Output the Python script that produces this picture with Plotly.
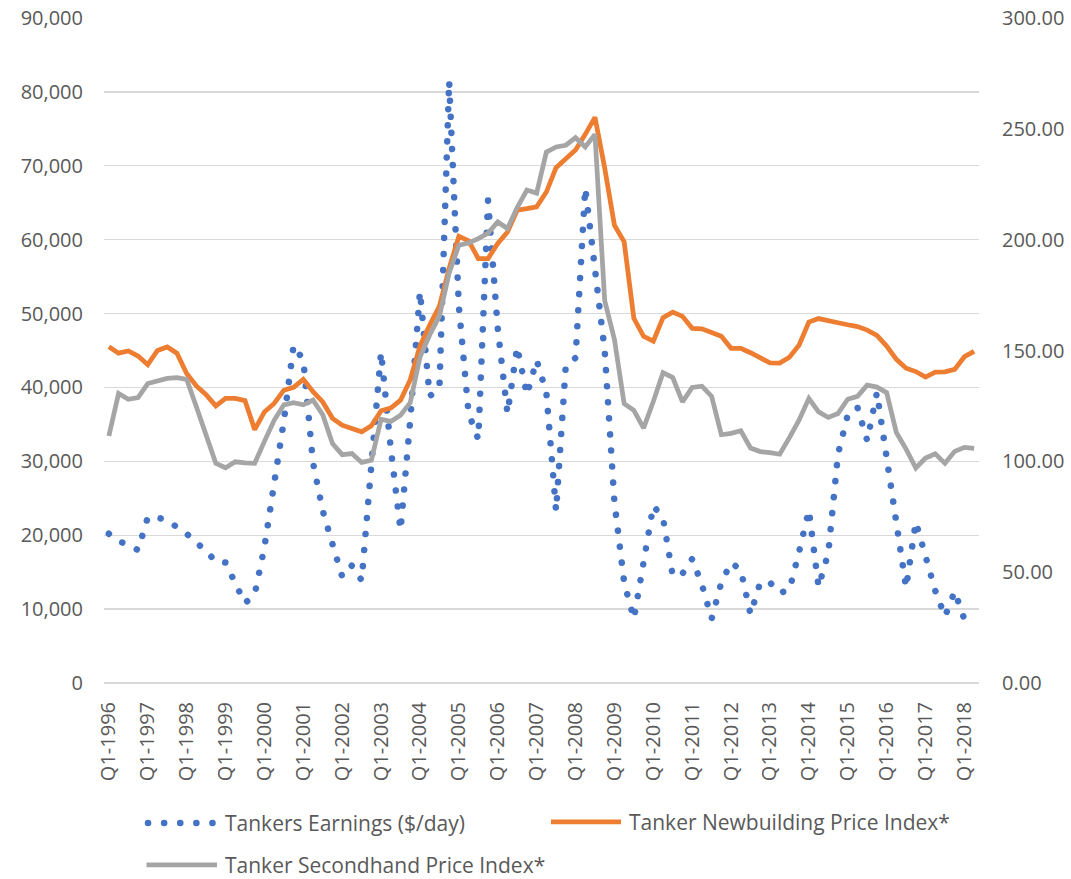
import plotly.graph_objects as go

# ---------------- data ----------------
years = list(range(1996, 2019))
quarters = [f"Q{q}-{y}" for y in years for q in (1, 2, 3, 4)][:90]  # Q1-1996 .. Q2-2018
tick_labels = [q for q in quarters if q.startswith("Q1-")]

earnings = [
    20200, 19200, 18700, 18000, 22400, 22400, 22000, 21200, 20200, 19000,
    17900, 16400, 16300, 13500, 10800, 12000, 18400, 27000, 35500, 45700,
    43700, 29800, 23300, 18800, 14400, 15900, 13900, 29500, 44800, 31700,
    20700, 35600, 53000, 38800, 40000, 81500, 51000, 36500, 33000, 65300,
    48000, 36500, 45500, 39000, 43700, 39300, 23300, 43000, 44000, 67000,
    56000, 45000, 24500, 13600, 8700, 16300, 24000, 22300, 14500, 14800,
    16800, 13300, 8700, 13600, 16300, 15300, 9300, 13600, 13600, 12200,
    12600, 17800, 23400, 13000, 17600, 31000, 36300, 37300, 32800, 39300,
    30600, 23000, 12900, 21800, 16800, 12500, 9000, 12400, 8600, None,
]

newbuilding = [
    151.7, 148.8, 149.8, 147.5, 143.6, 150.0, 151.6, 148.8, 139.6, 134.0,
    130.1, 125.0, 128.4, 128.4, 127.4, 114.3, 122.3, 126.1, 132.1, 133.4,
    137.0, 131.4, 126.8, 119.4, 116.3, 114.8, 113.3, 116.0, 122.8, 124.0,
    127.6, 136.8, 152.0, 161.5, 170.0, 187.0, 201.5, 199.5, 191.5, 191.5,
    198.3, 203.5, 213.3, 214.0, 214.8, 221.5, 232.5, 236.5, 240.5, 247.5,
    255.2, 232.3, 206.5, 199.0, 164.5, 156.4, 154.2, 164.8, 167.3, 165.4,
    160.0, 159.8, 158.0, 156.4, 151.0, 151.0, 149.0, 146.6, 144.4, 144.3,
    147.0, 152.5, 162.8, 164.4, 163.7, 162.5, 161.6, 160.8, 159.2, 156.8,
    152.0, 146.0, 142.0, 140.5, 138.0, 140.2, 140.4, 141.5, 147.2, 149.6,
]

secondhand = [
    111.4, 130.6, 128.0, 128.8, 135.1, 136.2, 137.4, 137.8, 137.0, 124.6,
    111.8, 99.1, 97.1, 99.8, 99.3, 99.1, 109.0, 118.5, 125.5, 126.5,
    125.5, 127.6, 121.0, 108.0, 103.0, 103.5, 99.5, 100.5, 119.0, 118.0,
    120.8, 126.5, 147.0, 157.0, 165.5, 185.0, 197.5, 198.5, 200.5, 203.0,
    208.0, 205.0, 214.5, 222.4, 221.0, 239.5, 241.8, 242.6, 246.0, 241.8,
    247.5, 172.5, 155.0, 126.0, 123.0, 115.0, 127.0, 140.0, 137.8, 126.8,
    133.3, 133.9, 129.3, 112.0, 112.6, 113.8, 106.0, 104.4, 103.9, 103.2,
    110.7, 118.7, 128.4, 122.3, 119.8, 121.6, 128.0, 129.3, 134.4, 133.5,
    131.0, 113.0, 105.5, 97.0, 101.5, 103.4, 99.1, 104.5, 106.3, 105.9,
]

series_names = ["Tankers Earnings ($/day)", "Tanker Newbuilding Price Index*",
                "Tanker Secondhand Price Index*"]

# ---------------- style ----------------
BLUE, ORANGE, GRAY = "#4472C4", "#ED7D31", "#A5A5A5"
TXT = "#595959"
GRID = "#D9D9D9"
FONT = "Open Sans"
DOT_DASH = "0.1px,16px"

W, H = 1071, 879
ML, MR, MT, MB = 104, 92, 17.7, 196
PW, PH = W - ML - MR, H - MT - MB


def px(x):
    return (x - ML) / PW


def py(y):
    return (H - MB - y) / PH


fig = go.Figure()
fig.add_trace(go.Scatter(x=quarters, y=earnings, name=series_names[0], yaxis="y",
                         mode="lines", line=dict(color=BLUE, width=6.5, dash=DOT_DASH),
                         connectgaps=False, showlegend=False, hoverinfo="skip"))
fig.add_trace(go.Scatter(x=quarters, y=newbuilding, name=series_names[1], yaxis="y2",
                         mode="lines", line=dict(color=ORANGE, width=4.75),
                         showlegend=False, hoverinfo="skip"))
fig.add_trace(go.Scatter(x=quarters, y=secondhand, name=series_names[2], yaxis="y2",
                         mode="lines", line=dict(color=GRAY, width=4.75),
                         showlegend=False, hoverinfo="skip"))

# ---------------- custom legend ----------------
legend_items = [
    (series_names[0], BLUE, DOT_DASH, 6.5, 148, 213.6, 823, 223),
    (series_names[1], ORANGE, "solid", 4.75, 551, 621, 822, 627),
    (series_names[2], GRAY, "solid", 4.75, 146.5, 217, 865, 223),
]
shapes = []
annotations = []
for name, col, dash, wid, x0, x1, yc, tx in legend_items:
    shapes.append(dict(type="line", xref="paper", yref="paper",
                       x0=px(x0), x1=px(x1), y0=py(yc), y1=py(yc),
                       line=dict(color=col, width=wid, dash=dash)))
    annotations.append(dict(text=name, xref="paper", yref="paper", x=px(tx), y=py(yc),
                            xanchor="left", yanchor="middle", showarrow=False,
                            font=dict(family=FONT, size=21, color=TXT)))

fig.update_layout(
    template="none",
    width=W, height=H,
    margin=dict(l=ML, r=MR, t=MT, b=MB, pad=0, autoexpand=False),
    paper_bgcolor="white", plot_bgcolor="white",
    showlegend=False,
    font=dict(family=FONT, size=20, color=TXT),
    xaxis=dict(type="category", categoryorder="array", categoryarray=quarters,
               range=[-0.5, len(quarters) - 0.5], automargin=False,
               tickmode="array", tickvals=tick_labels, ticktext=tick_labels,
               tickangle=-90, showgrid=False, showline=False, zeroline=False,
               ticks="", ticklabelstandoff=14,
               tickfont=dict(family=FONT, size=20, color=TXT)),
    yaxis=dict(range=[0, 90000], dtick=10000, tickformat=",", showgrid=True,
               automargin=False,
               gridcolor=GRID, gridwidth=1.3, zeroline=True, zerolinecolor=GRID,
               zerolinewidth=1.3, showline=False, ticks="", ticklabelstandoff=20,
               tickfont=dict(family=FONT, size=20, color=TXT)),
    yaxis2=dict(range=[0, 300], dtick=50, tickformat=".2f", overlaying="y",
                automargin=False,
                side="right", showgrid=False, zeroline=False, showline=False,
                ticks="", ticklabelstandoff=22,
                tickfont=dict(family=FONT, size=20, color=TXT)),
    shapes=shapes,
    annotations=annotations,
)

post = """
document.documentElement.style.margin = '0';
document.body.style.margin = '0';
document.body.style.padding = '0';
document.body.style.overflow = 'hidden';
var gd = document.getElementById('{plot_id}');
function roundDots(){
  gd.querySelectorAll('path').forEach(function(p){
    var d = p.style.strokeDasharray || p.getAttribute('stroke-dasharray') || '';
    if (d.indexOf('0.1') === 0) { p.style.strokeLinecap = 'round'; }
  });
}
roundDots();
gd.on('plotly_afterplot', roundDots);
"""

fig.write_html("out.html", post_script=post,
               config={"displayModeBar": False, "staticPlot": True})
